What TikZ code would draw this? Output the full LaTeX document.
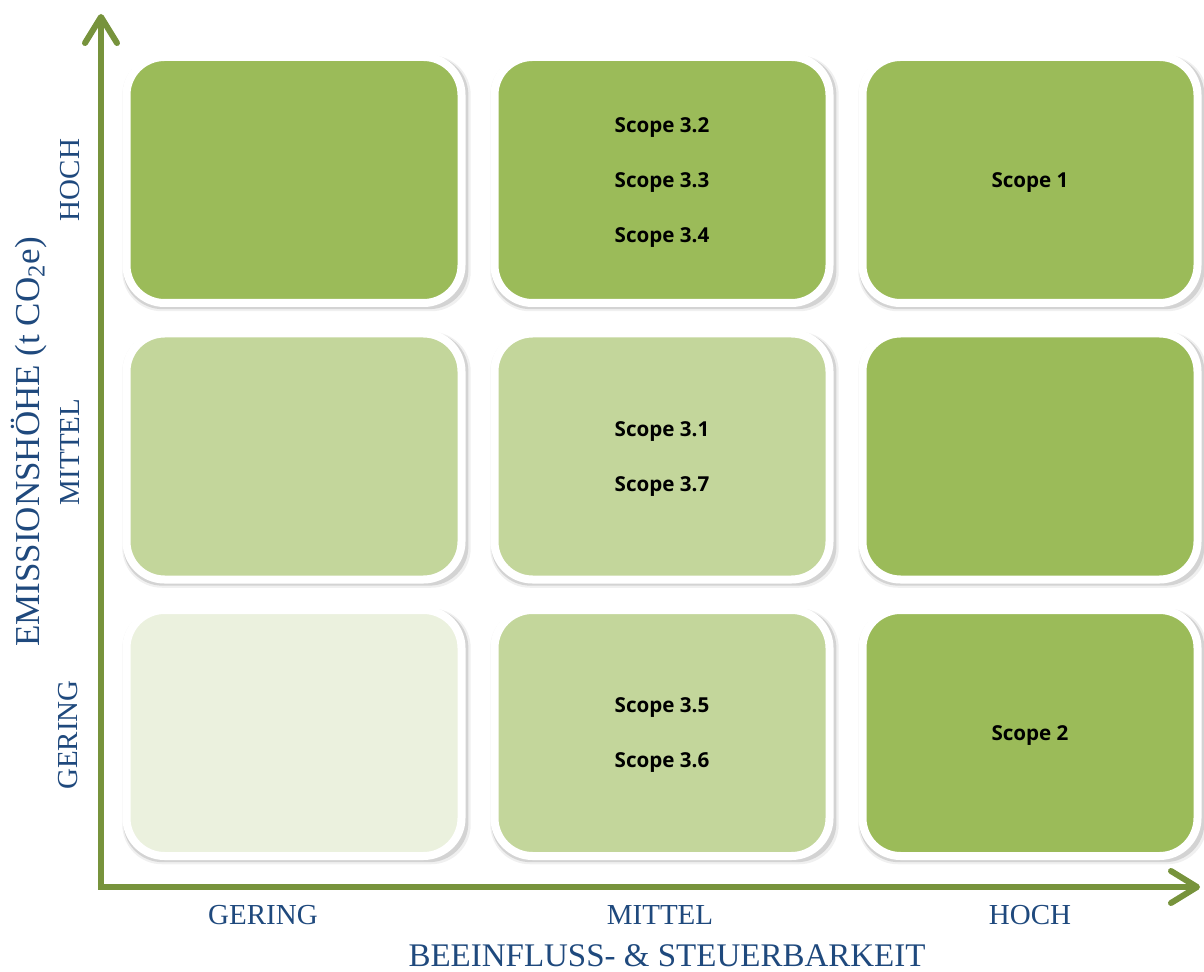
\documentclass[tikz,border=0pt]{standalone}
\usepackage{fontspec}
\setmainfont{Liberation Serif}
\newfontfamily\scopefont{Open Sans}
\usetikzlibrary{shapes.geometric, arrows.meta, positioning, shadows}
\definecolor{darkgreen}{HTML}{9BBB59}
\definecolor{midgreen}{HTML}{C3D69B}
\definecolor{palegreen}{HTML}{EBF1DE}
\definecolor{axisgreen}{HTML}{77933C}
\definecolor{labelblue}{HTML}{1F497D}
\tikzstyle{cell} = [rectangle, rounded corners=19pt, minimum width=167.5pt, minimum height=123pt, outer sep=0pt, draw=white, line width=4pt, text centered, align=center, font=\scopefont\bfseries\fontsize{10.3}{27.5}\selectfont, text depth=-6.5pt, drop shadow={shadow xshift=1.2pt, shadow yshift=-1.6pt, shadow scale=1.04, fill=black, opacity=0.06}, drop shadow={shadow xshift=0.9pt, shadow yshift=-1.2pt, shadow scale=1.03, fill=black, opacity=0.12}]
\tikzstyle{high} = [cell, fill=darkgreen]
\tikzstyle{mid} = [cell, fill=midgreen]
\tikzstyle{low} = [cell, fill=palegreen]
\tikzstyle{axis} = [line width=3pt, draw=axisgreen, {Straight Barb[round, length=13pt, width=16pt]}-{Straight Barb[round, length=13pt, width=16pt]}]
\tikzstyle{lvl} = [text=labelblue, font=\fontsize{14.5}{16}\selectfont]
\tikzstyle{axtitle} = [text=labelblue, font=\fontsize{16.5}{18}\selectfont]
\begin{document}
\begin{tikzpicture}[x=0.5pt, y=-0.5pt, node distance=15.25pt and 16.5pt]
	\useasboundingbox (0,0) rectangle (1204,972);
	% grid of cells
	\node (h1) [high] at (294,180) {};
	\node (h2) [high, right=of h1] {Scope 3.2\\Scope 3.3\\Scope 3.4};
	\node (h3) [high, right=of h2] {Scope 1};
	\node (m1) [mid, below=of h1] {};
	\node (m2) [mid, right=of m1] {Scope 3.1\\Scope 3.7};
	\node (m3) [high, right=of m2] {};
	\node (g1) [low, below=of m1] {};
	\node (g2) [mid, right=of g1] {Scope 3.5\\Scope 3.6};
	\node (g3) [high, right=of g2] {Scope 2};
	% axes
	\coordinate (origin) at (101,887);
	\coordinate (ytip) at (101,14);
	\coordinate (xtip) at (1200,887);
	\draw [axis] (ytip) -- (origin) -- (xtip);
	% axis labels
	\node (yh) [lvl, rotate=90] at (70,180) {HOCH};
	\node (ym) [lvl, rotate=90] at (70,452) {MITTEL};
	\node (yg) [lvl, rotate=90] at (68,735) {GERING};
	\node (yt) [axtitle, font=\fontsize{17.5}{19}\selectfont, rotate=90] at (29,442) {EMISSIONSHÖHE (t CO\textsubscript{2}e)};
	\node (xg) [lvl] at (263,915) {GERING};
	\node (xm) [lvl] at (660,915) {MITTEL};
	\node (xh) [lvl] at (1030,915) {HOCH};
	\node (xt) [axtitle] at (667,956) {BEEINFLUSS- \& STEUERBARKEIT};
\end{tikzpicture}
\end{document}
